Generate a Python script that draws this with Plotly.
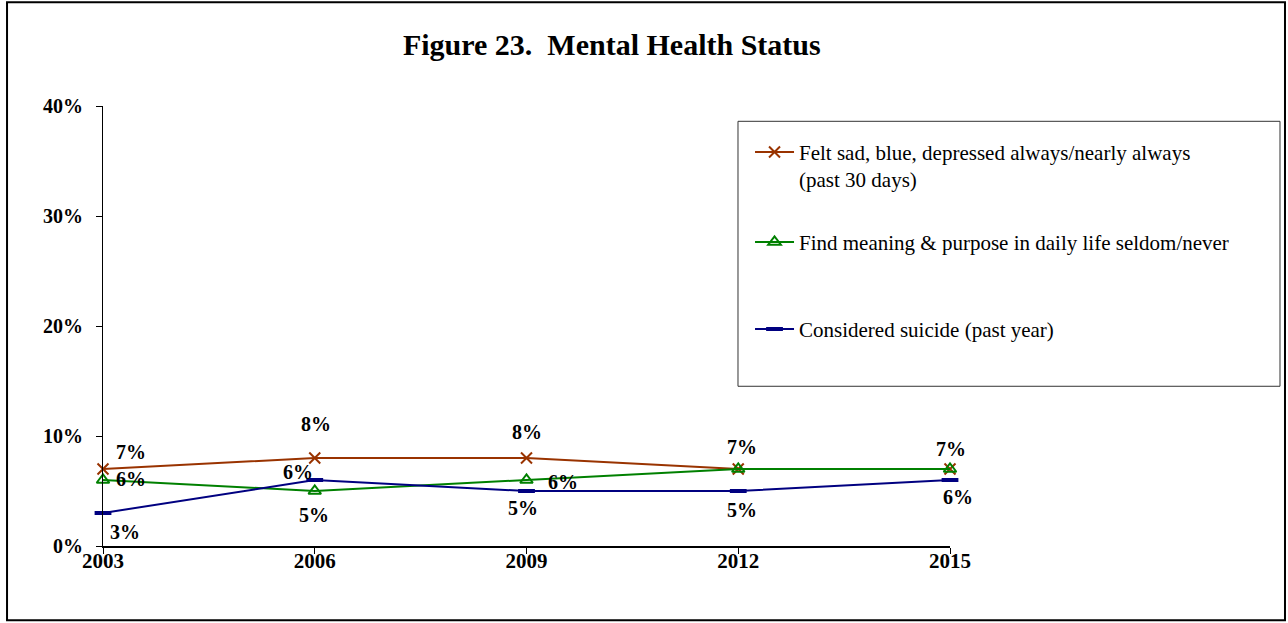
import plotly.graph_objects as go

# Survey years and percentages for each indicator
years = [2003, 2006, 2009, 2012, 2015]
felt_sad = [7, 8, 8, 7, 7]
meaning = [6, 5, 6, 7, 7]
suicide = [3, 6, 5, 5, 6]

names = [
    "Felt sad, blue, depressed always/nearly always<br>(past 30 days)",
    "Find meaning & purpose in daily life seldom/never",
    "Considered suicide (past year)",
]
y_ticks = [0, 10, 20, 30, 40]
y_labels = [f"{v}%" for v in y_ticks]

# label offsets in pixels (dx, dy); None hides the label
sad_off = [(28, 17), (1, 34), (0, 26), (4, 22), (1, 20)]
meaning_off = [(28, 1), (-1, -24), (36, -2), None, None]
suicide_off = [(22, -19), (-17, 8), (-4, -17), (4, -19), (8, -17)]

SERIF = "Liberation Serif"

fig = go.Figure()
fig.add_trace(go.Scatter(
    x=years, y=felt_sad, name=names[0], mode="lines+markers",
    line=dict(color="#993300", width=2), legend="legend", showlegend=True,
    marker=dict(symbol="x-thin-open", size=11, line=dict(color="#993300", width=2)),
    cliponaxis=False,
))
fig.add_trace(go.Scatter(
    x=years, y=meaning, name=names[1], mode="lines+markers",
    line=dict(color="#008000", width=2), legend="legend2", showlegend=True,
    marker=dict(symbol="triangle-up-open", size=11, color="#008000",
                line=dict(color="#008000", width=2)),
    cliponaxis=False,
))
fig.add_trace(go.Scatter(
    x=years, y=suicide, name=names[2], mode="lines+markers",
    line=dict(color="#000080", width=2), legend="legend3", showlegend=True,
    marker=dict(symbol="line-ew-open", size=12, line=dict(color="#003300", width=4)),
    cliponaxis=False,
))

annotations = []
for vals, offs in ((felt_sad, sad_off), (meaning, meaning_off), (suicide, suicide_off)):
    for x, v, o in zip(years, vals, offs):
        if o is None:
            continue
        annotations.append(dict(
            x=x, y=v, xref="x", yref="y", text=f"{v}%", showarrow=False,
            xshift=o[0], yshift=o[1],
            font=dict(family=SERIF, size=20, color="black", weight="bold"),
        ))

shapes = [
    # outer frame
    dict(type="rect", xref="paper", yref="paper",
         x0=-0.1133, x1=1.3955, y0=-0.169, y1=1.2357,
         line=dict(color="black", width=2)),
    # legend frame
    dict(type="rect", xref="paper", yref="paper",
         x0=0.7497, x1=1.3896, y0=0.363, y1=0.9652,
         line=dict(color="#333333", width=1)),
]


def legend_at(ytop):
    return dict(
        x=0.7639, xanchor="left", y=ytop, yanchor="top",
        bgcolor="rgba(0,0,0,0)", borderwidth=0, itemwidth=39,
        font=dict(family=SERIF, size=21, color="black"),
        valign="top", visible=True,
    )


fig.update_layout(
    width=1288, height=623,
    margin=dict(l=103, r=338, t=106, b=77),
    paper_bgcolor="white", plot_bgcolor="white",
    font=dict(family=SERIF, color="black"),
    showlegend=True,
    title=dict(
        text="Figure 23.\u00a0\u00a0Mental Health Status",
        x=0.475, xanchor="center", y=1 - 44 / 623, yanchor="middle",
        font=dict(family=SERIF, size=30, color="black", weight="bold"),
    ),
    xaxis=dict(
        range=[2003, 2015], tickvals=years, ticktext=[str(y) for y in years],
        showline=True, linecolor="black", linewidth=2, showgrid=False, zeroline=False,
        ticks="outside", ticklen=6, tickcolor="black", tickwidth=1,
        ticklabelstandoff=-11,
        tickfont=dict(family=SERIF, size=21, color="black", weight="bold"),
    ),
    yaxis=dict(
        range=[0, 40], tickvals=y_ticks, ticktext=y_labels,
        showline=True, linecolor="black", linewidth=1, showgrid=False, zeroline=False,
        ticks="outside", ticklen=6, tickcolor="black", tickwidth=1,
        ticklabelstandoff=9,
        tickfont=dict(family=SERIF, size=20, color="black", weight="bold"),
    ),
    legend=legend_at(0.9414),
    legend2=legend_at(0.7368),
    legend3=legend_at(0.5391),
    annotations=annotations,
    shapes=shapes,
)

fig.write_html("out.html")
